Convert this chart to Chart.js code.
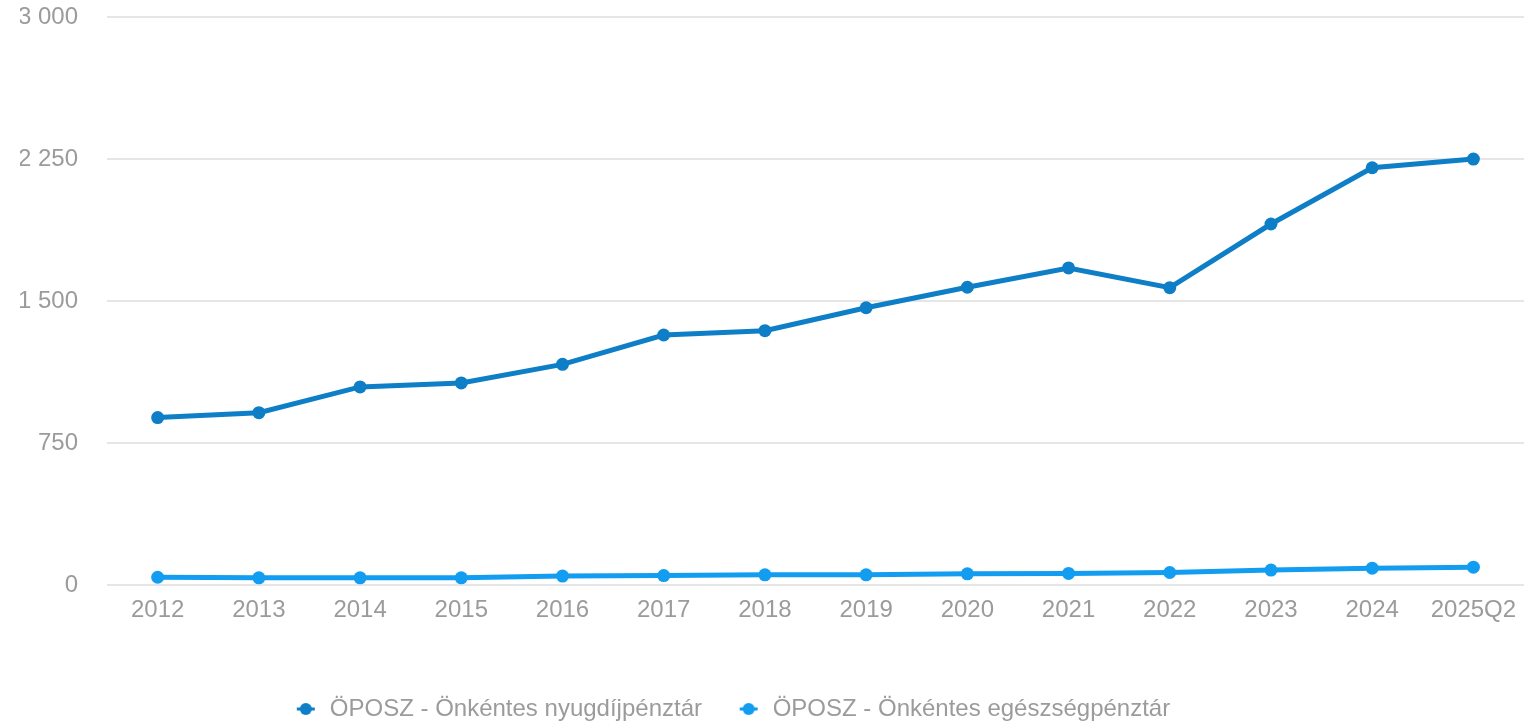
<!DOCTYPE html>
<html>
<head>
<meta charset="utf-8">
<script src="https://cdn.jsdelivr.net/npm/chart.js@4.4.1/dist/chart.umd.min.js"></script>
<style>
html,body{margin:0;padding:0;background:#fff;}
#wrap{width:1524px;height:724px;position:relative;}
</style>
</head>
<body>
<div id="wrap"><canvas id="c"></canvas></div>
<script>
const categories = ["2012","2013","2014","2015","2016","2017","2018","2019","2020","2021","2022","2023","2024","2025Q2"];
const pensionValues = [885, 911, 1047, 1068, 1166, 1321, 1344, 1465, 1573, 1675, 1571, 1907, 2204, 2250];
const healthValues = [42, 39, 39, 39, 48, 51, 55, 55, 60, 62, 67, 80, 90, 95];
const seriesNames = ["ÖPOSZ - Önkéntes nyugdíjpénztár", "ÖPOSZ - Önkéntes egészségpénztár"];
const yTicks = [0, 750, 1500, 2250, 3000];

const darkBlue = "#0e7fc7";
const lightBlue = "#139df0";
const gray = "#9b9b9b";
const fontFamily = "'Liberation Sans', Arial, Helvetica, sans-serif";
const FS = 24;

function legendIcon(color){
  const cv = document.createElement('canvas');
  cv.width = 20; cv.height = 14;
  const g = cv.getContext('2d');
  g.strokeStyle = color; g.lineWidth = 3;
  g.beginPath(); g.moveTo(1,7); g.lineTo(19,7); g.stroke();
  g.fillStyle = color;
  g.beginPath(); g.arc(10,7,6,0,Math.PI*2); g.fill();
  return cv;
}
const legendTrail = ["    ", "            "];

new Chart(document.getElementById('c'), {
  type: 'line',
  data: {
    labels: categories,
    datasets: [
      {label: seriesNames[0], data: pensionValues, borderColor: darkBlue, backgroundColor: darkBlue,
       pointBackgroundColor: darkBlue, pointBorderWidth: 0, pointRadius: 6.5, borderWidth: 5, tension: 0,
       pointStyle: 'circle'},
      {label: seriesNames[1], data: healthValues, borderColor: lightBlue, backgroundColor: lightBlue,
       pointBackgroundColor: lightBlue, pointBorderWidth: 0, pointRadius: 6.5, borderWidth: 5, tension: 0,
       pointStyle: 'circle'}
    ]
  },
  options: {
    responsive: true,
    maintainAspectRatio: false,
    animation: false,
    layout: {autoPadding: false, padding: {left: 20, right: 0, top: 0, bottom: -7}},
    plugins: {
      tooltip: {enabled: false},
      legend: {
        position: 'bottom',
        labels: {
          color: gray,
          font: {family: fontFamily, size: FS},
          padding: 8,
          usePointStyle: true,
          generateLabels: (chart) => chart.data.datasets.map((ds, i) => ({
            text: ds.label + legendTrail[i],
            fillStyle: ds.borderColor,
            strokeStyle: ds.borderColor,
            fontColor: gray,
            pointStyle: legendIcon(ds.borderColor),
            datasetIndex: i,
            hidden: false,
            lineWidth: 0
          }))
        }
      }
    },
    scales: {
      x: {
        offset: true,
        grid: {display: false, drawTicks: false},
        border: {display: false},
        ticks: {color: gray, font: {family: fontFamily, size: FS}, padding: 11, maxRotation: 0, autoSkip: false},
        afterFit: (s) => { s.height += 53; s.paddingLeft = 0; s.paddingRight = 0; }
      },
      y: {
        min: 0, max: 3000,
        afterBuildTicks: (s) => { s.ticks = yTicks.map(v => ({value: v})); },
        grid: {color: '#e6e6e6', lineWidth: 2, drawTicks: false},
        border: {display: false},
        ticks: {
          color: gray, font: {family: fontFamily, size: FS}, padding: 29,
          callback: (v) => String(v).replace(/\B(?=(\d{3})+(?!\d))/g, ' ')
        },
        afterFit: (s) => { s.width -= 31; s.paddingTop = 17; s.paddingBottom = 0; }
      }
    }
  }
});
</script>
</body>
</html>
